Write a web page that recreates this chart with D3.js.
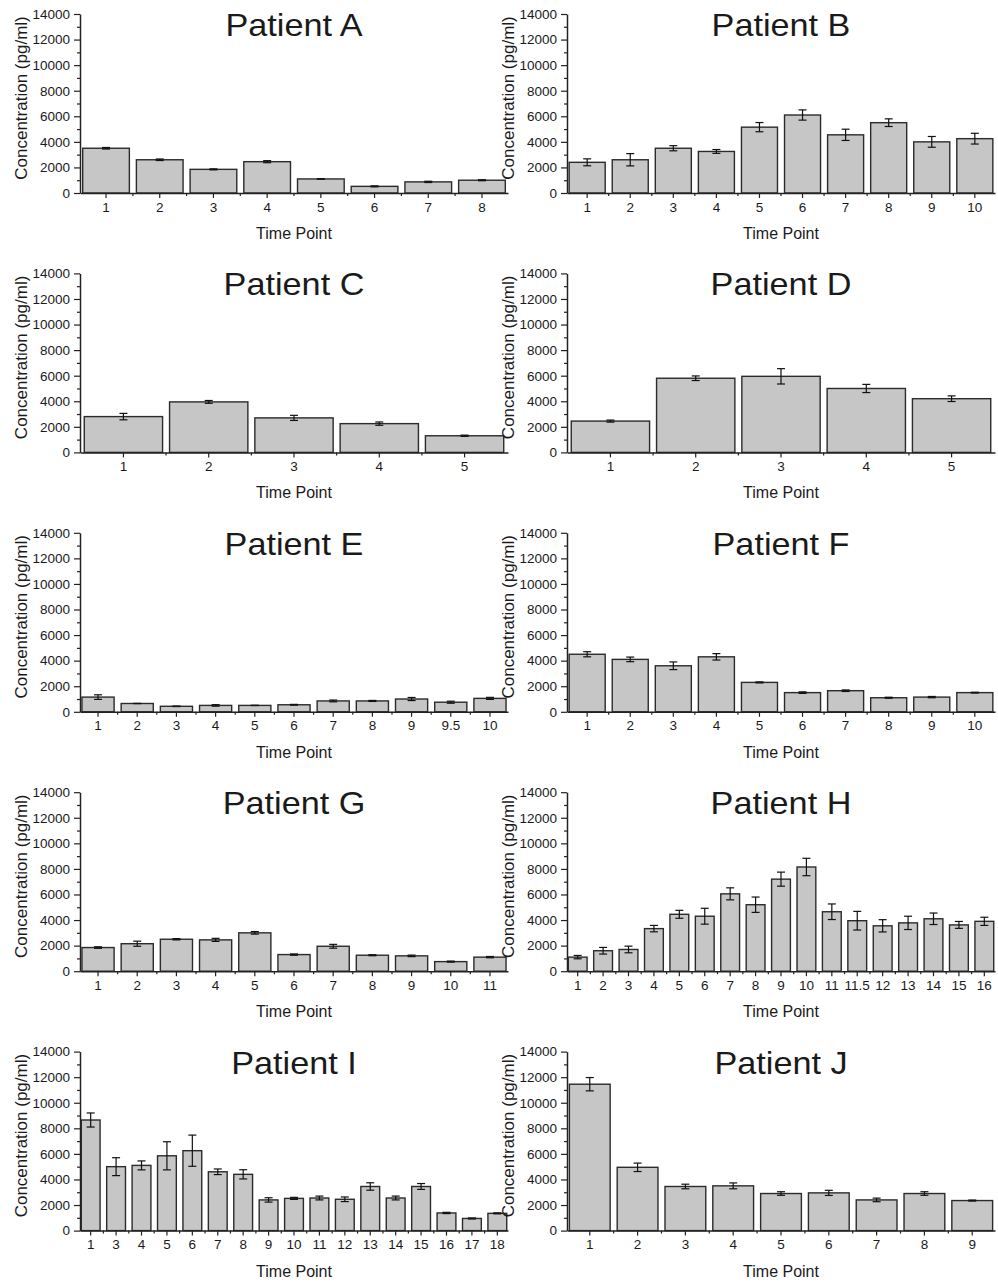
<!DOCTYPE html>
<html>
<head>
<meta charset="utf-8">
<script src="https://cdn.jsdelivr.net/npm/d3@7"></script>
<style>
  body { margin: 0; background: #fff; }
  text { font-family: "Liberation Sans", Arial, sans-serif; fill: #1a1a1a; }
</style>
</head>
<body>
<div id="chart"></div>
<script>
// ---- data ----
const yTicks = [0, 2000, 4000, 6000, 8000, 10000, 12000, 14000];

const timeA = ["1", "2", "3", "4", "5", "6", "7", "8"];
const meanA = [3500, 2600, 1850, 2450, 1100, 520, 870, 1000];
const errA  = [60, 60, 40, 80, 20, 40, 50, 40];

const timeB = ["1", "2", "3", "4", "5", "6", "7", "8", "9", "10"];
const meanB = [2400, 2600, 3500, 3250, 5150, 6100, 4550, 5500, 4000, 4250];
const errB  = [270, 480, 200, 150, 360, 400, 440, 300, 420, 420];

const timeC = ["1", "2", "3", "4", "5"];
const meanC = [2800, 3950, 2700, 2250, 1300];
const errC  = [250, 110, 200, 130, 50];

const timeD = ["1", "2", "3", "4", "5"];
const meanD = [2450, 5800, 5950, 5000, 4200];
const errD  = [80, 180, 600, 320, 220];

const timeE = ["1", "2", "3", "4", "5", "6", "7", "8", "9", "9.5", "10"];
const meanE = [1150, 650, 430, 500, 500, 550, 850, 850, 1000, 750, 1050];
const errE  = [180, 10, 20, 60, 10, 30, 70, 40, 120, 80, 80];

const timeF = ["1", "2", "3", "4", "5", "6", "7", "8", "9", "10"];
const meanF = [4500, 4100, 3600, 4300, 2300, 1500, 1650, 1100, 1150, 1500];
const errF  = [200, 180, 300, 250, 40, 60, 60, 40, 50, 30];

const timeG = ["1", "2", "3", "4", "5", "6", "7", "8", "9", "10", "11"];
const meanG = [1850, 2150, 2500, 2450, 3000, 1300, 1950, 1250, 1200, 750, 1100];
const errG  = [60, 200, 50, 120, 100, 50, 150, 40, 60, 40, 50];

const timeH = ["1", "2", "3", "4", "5", "6", "7", "8", "9", "10", "11", "11.5", "12", "13", "14", "15", "16"];
const meanH = [1100, 1600, 1700, 3330, 4450, 4300, 6050, 5200, 7200, 8150, 4650, 3950, 3550, 3780, 4100, 3620, 3900];
const errH  = [130, 260, 260, 250, 310, 620, 470, 600, 550, 680, 610, 730, 480, 520, 450, 270, 320];

const timeI = ["1", "3", "4", "5", "6", "7", "8", "9", "10", "11", "12", "13", "14", "15", "16", "17", "18"];
const meanI = [8650, 5000, 5100, 5850, 6250, 4600, 4400, 2400, 2520, 2550, 2450, 3450, 2550, 3450, 1380, 950, 1350];
const errI  = [550, 700, 350, 1100, 1220, 220, 360, 170, 80, 150, 180, 290, 150, 230, 50, 40, 40];

const timeJ = ["1", "2", "3", "4", "5", "6", "7", "8", "9"];
const meanJ = [11450, 4950, 3450, 3500, 2900, 2950, 2400, 2900, 2350];
const errJ  = [520, 330, 180, 230, 140, 200, 140, 140, 40];

const panels = [
  { name: "Patient A", time: timeA, mean: meanA, err: errA },
  { name: "Patient B", time: timeB, mean: meanB, err: errB },
  { name: "Patient C", time: timeC, mean: meanC, err: errC },
  { name: "Patient D", time: timeD, mean: meanD, err: errD },
  { name: "Patient E", time: timeE, mean: meanE, err: errE },
  { name: "Patient F", time: timeF, mean: meanF, err: errF },
  { name: "Patient G", time: timeG, mean: meanG, err: errG },
  { name: "Patient H", time: timeH, mean: meanH, err: errH },
  { name: "Patient I", time: timeI, mean: meanI, err: errI },
  { name: "Patient J", time: timeJ, mean: meanJ, err: errJ }
];

// ---- layout ----
const W = 998, H = 1284;
const colX = [80, 567];      // y-axis position of each column
const rowTop = 14, rowStep = 259.4;
const plotW = 428, plotH = 179;

const svg = d3.select("#chart").append("svg")
  .attr("width", W)
  .attr("height", H)
  .style("background", "#fff");

panels.forEach((p, i) => {
  const col = i % 2, row = Math.floor(i / 2);
  const g = svg.append("g")
    .attr("transform", `translate(${colX[col]},${rowTop + row * rowStep})`);

  const data = p.time.map((t, k) => ({ t, v: p.mean[k], e: p.err[k] }));

  const step = plotW / p.time.length;
  const x = d3.scaleBand()
    .domain(p.time)
    .range([0, plotW])
    .paddingInner(Math.min(0.26, 7 / step))
    .paddingOuter(0.05);

  const y = d3.scaleLinear()
    .domain([0, 14000])
    .range([plotH, 0]);

  // bars
  g.selectAll("rect.bar")
    .data(data)
    .join("rect")
    .attr("class", "bar")
    .attr("x", d => x(d.t))
    .attr("y", d => y(d.v))
    .attr("width", x.bandwidth())
    .attr("height", d => plotH - y(d.v))
    .attr("fill", "#c6c6c6")
    .attr("stroke", "#2b2b2b")
    .attr("stroke-width", 1.4);

  // error bars
  const eb = g.selectAll("g.err")
    .data(data)
    .join("g")
    .attr("class", "err")
    .attr("transform", d => `translate(${x(d.t) + x.bandwidth() / 2},0)`)
    .attr("stroke", "#111")
    .attr("stroke-width", 1.2);
  eb.append("line")
    .attr("y1", d => y(d.v + d.e)).attr("y2", d => y(d.v - d.e));
  eb.append("line")
    .attr("x1", -4).attr("x2", 4)
    .attr("y1", d => y(d.v + d.e)).attr("y2", d => y(d.v + d.e));
  eb.append("line")
    .attr("x1", -4).attr("x2", 4)
    .attr("y1", d => y(d.v - d.e)).attr("y2", d => y(d.v - d.e));

  // y axis: major + minor ticks
  const yAxis = g.append("g")
    .call(d3.axisLeft(y).tickValues(yTicks).tickFormat(d3.format("d"))
      .tickSize(6).tickPadding(4).tickSizeOuter(0));
  g.append("g")
    .call(d3.axisLeft(y).tickValues(d3.range(1000, 14000, 2000)).tickSize(3).tickFormat("").tickSizeOuter(0))
    .select(".domain").remove();
  yAxis.selectAll("text")
    .style("font-size", "13.5px")
    .attr("fill", "#1a1a1a");

  // x axis: ticks at categories + minor ticks at band edges
  const xAxis = g.append("g")
    .attr("transform", `translate(0,${plotH})`)
    .call(d3.axisBottom(x).tickSize(5).tickPadding(4).tickSizeOuter(0));
  xAxis.selectAll("text")
    .style("font-size", "13.5px")
    .attr("fill", "#1a1a1a");
  const edges = p.time.slice(1).map(t => x(t) - x.step() * x.paddingInner() / 2);
  g.append("g")
    .selectAll("line")
    .data(edges)
    .join("line")
    .attr("x1", d => d).attr("x2", d => d)
    .attr("y1", plotH).attr("y2", plotH + 3)
    .attr("stroke", "#222")
    .attr("stroke-width", 1.2);

  g.selectAll(".domain").attr("stroke", "#222").attr("stroke-width", 1.5);
  g.selectAll(".tick line").attr("stroke", "#222").attr("stroke-width", 1.2);

  // title
  g.append("text")
    .attr("transform", `translate(${plotW / 2},22) scale(1.07,1)`)
    .attr("text-anchor", "middle")
    .style("font-size", "32px")
    .text(p.name);

  // x label
  g.append("text")
    .attr("x", plotW / 2)
    .attr("y", 225)
    .attr("text-anchor", "middle")
    .style("font-size", "16px")
    .text("Time Point");

  // y label
  g.append("text")
    .attr("transform", `translate(-53,${84}) rotate(-90)`)
    .attr("text-anchor", "middle")
    .style("font-size", "17px")
    .text("Concentration (pg/ml)");
});
</script>
</body>
</html>
